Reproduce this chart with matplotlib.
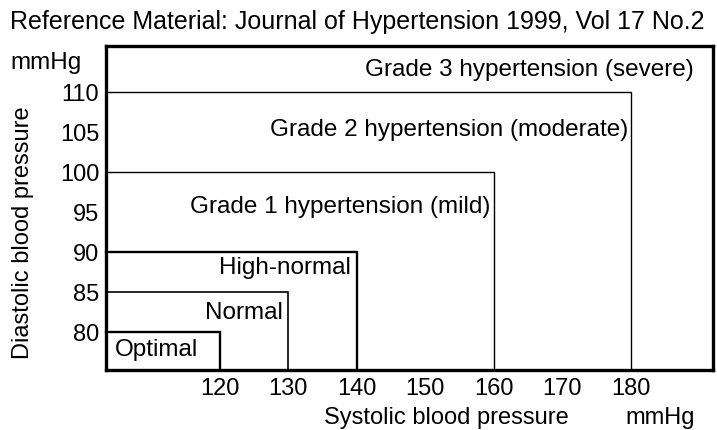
import matplotlib.pyplot as plt

plt.rcParams['font.family'] = ['Liberation Sans', 'DejaVu Sans']

# blood pressure classification (WHO/ISH 1999)
categories = ["Optimal", "Normal", "High-normal",
              "Grade 1 hypertension (mild)",
              "Grade 2 hypertension (moderate)",
              "Grade 3 hypertension (severe)"]
systolic_limits = [120, 130, 140, 160, 180]
diastolic_limits = [80, 85, 90, 100, 110]
x_ticks = [120, 130, 140, 150, 160, 170, 180]
y_ticks = [80, 85, 90, 95, 100, 105, 110]

x_min, x_max = 103.4, 192.0
y_min, y_max = 75.25, 115.75

line_widths = [1.7, 1.2, 1.7, 1.0, 1.0]

fig = plt.figure(figsize=(7.17, 4.30), dpi=100)
ax = fig.add_axes([0.148, 0.1395, 0.846, 0.7535])

# nested boxes: each class fills from the lower-left corner up to its limits
for sx, dy, lw in zip(systolic_limits, diastolic_limits, line_widths):
    ax.plot([x_min, sx, sx], [dy, dy, y_min], color='black', lw=lw,
            solid_joinstyle='miter', clip_on=False)

ax.set_xlim(x_min, x_max)
ax.set_ylim(y_min, y_max)
for s in ax.spines.values():
    s.set_linewidth(2.4)

ax.set_xticks(x_ticks)
ax.set_yticks(y_ticks)
ax.tick_params(length=0, labelsize=17, pad=6)
ax.tick_params(axis='y', pad=5)

fs = 17.5
# labels
ax.annotate(categories[0], (x_min, 77.75), xytext=(6, 0), textcoords='offset points',
            ha='left', va='center', fontsize=fs)
ax.annotate(categories[1], (systolic_limits[1], 82.4), xytext=(-4, 0), textcoords='offset points',
            ha='right', va='center', fontsize=fs)
ax.annotate(categories[2], (systolic_limits[2], 88.0), xytext=(-4, 0), textcoords='offset points',
            ha='right', va='center', fontsize=fs)
ax.annotate(categories[3], (systolic_limits[3], 95.6), xytext=(-2, 0), textcoords='offset points',
            ha='right', va='center', fontsize=fs)
ax.annotate(categories[4], (systolic_limits[4], 105.25), xytext=(-2, 0), textcoords='offset points',
            ha='right', va='center', fontsize=fs)
ax.annotate(categories[5], (x_max, 112.8), xytext=(-14, 0), textcoords='offset points',
            ha='right', va='center', fontsize=fs)

fig.text(10 / 717, 1 - 22 / 430, "Reference Material: Journal of Hypertension 1999, Vol 17 No.2",
         ha='left', va='center', fontsize=18)
fig.text(10 / 717, 1 - 63 / 430, "mmHg", ha='left', va='center', fontsize=fs)
fig.text(23 / 717, 1 - 233 / 430, "Diastolic blood pressure", rotation=90,
         ha='center', va='center', fontsize=17)
fig.text(446 / 717, 1 - 418 / 430, "Systolic blood pressure", ha='center', va='center', fontsize=17)
fig.text(660 / 717, 1 - 418 / 430, "mmHg", ha='center', va='center', fontsize=17)

fig.savefig("out.png", dpi=100)
